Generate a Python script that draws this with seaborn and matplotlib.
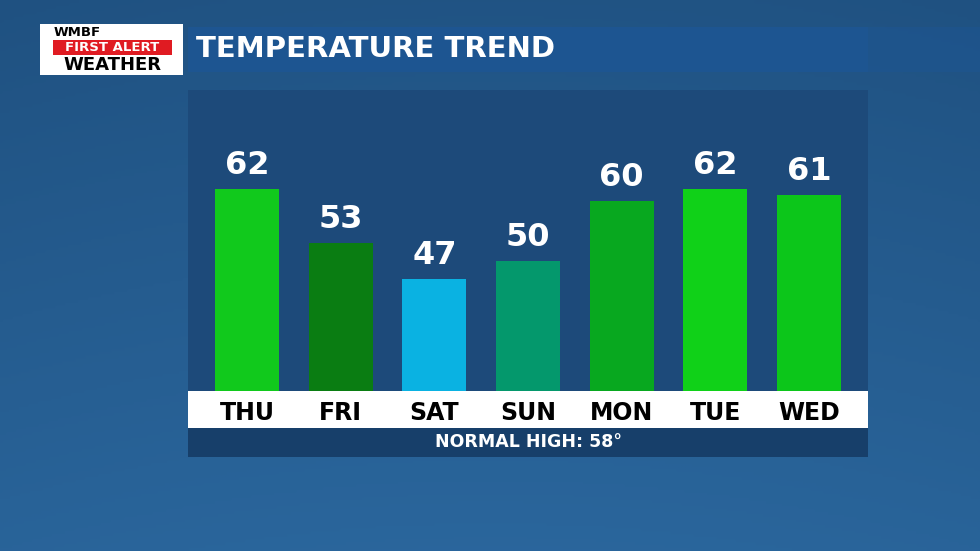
import matplotlib
matplotlib.use("Agg")
import matplotlib.pyplot as plt
import seaborn as sns
import numpy as np
import pandas as pd
from matplotlib.patches import Rectangle

days = ["THU", "FRI", "SAT", "SUN", "MON", "TUE", "WED"]
temps = [62, 53, 47, 50, 60, 62, 61]
colors = ["#11c91c", "#0a7d12", "#0ab2e2", "#04986c", "#08a81f", "#10d118", "#0cc61a"]
normal_high = 58

sns.set_theme(style="white")
plt.rcParams['font.family'] = ['DejaVu Sans']
W, H = 980, 551
fig = plt.figure(figsize=(9.8, 5.51), dpi=100)

bg = fig.add_axes([0, 0, 1, 1]); bg.axis("off")
yy = np.linspace(0, 1, 200)[:, None]
xx = np.linspace(0, 1, 300)[None, :]
grad = 0.55 + 0.3 * yy - 0.15 * (xx - 0.5) ** 2
bg.imshow(grad, cmap=matplotlib.colors.LinearSegmentedColormap.from_list("b", ["#0f3258", "#2f6fa8"]),
          extent=[0, 1, 0, 1], aspect="auto", vmin=0, vmax=1)
bg.set_xlim(0, 1); bg.set_ylim(0, 1)

def fx(px): return px / W
def fy(py): return 1 - py / H
def rect(x0, y0, x1, y1, color, z=1, alpha=1):
    bg.add_patch(Rectangle((fx(x0), fy(y1)), fx(x1) - fx(x0), fy(y0) - fy(y1), color=color, zorder=z, alpha=alpha, lw=0))

rect(40, 24, 183, 75, "white", 3)
rect(53, 40, 172, 55, "#e01b22", 4)
bg.text(fx(54), fy(32), "WMBF", fontsize=9.5, fontweight="bold", color="black", va="center", zorder=5)
bg.text(fx(112), fy(47.5), "FIRST ALERT", fontsize=9.5, fontweight="bold", color="white", va="center", ha="center", zorder=5)
bg.text(fx(112), fy(65), "WEATHER", fontsize=13, fontweight="bold", color="black", va="center", ha="center", zorder=5)
rect(188, 27, 868, 72, "#1d5591", 3)
rect(868, 27, 980, 72, "#1d5591", 3, 0.6)
bg.text(fx(196), fy(49), "TEMPERATURE TREND", fontsize=21, fontweight="bold", color="white", va="center", zorder=5)

rect(188, 90, 868, 391, "#1d4a7a", 3)
rect(188, 391, 868, 428, "white", 3)
rect(188, 428, 868, 457, "#173f6a", 3)
bg.text(fx(528), fy(442), f"NORMAL HIGH: {normal_high}°", fontsize=12.5, fontweight="bold", color="white",
        ha="center", va="center", zorder=5)

ax = fig.add_axes([fx(188), fy(391), fx(868) - fx(188), fy(90) - fy(391)])
ax.patch.set_alpha(0)
df = pd.DataFrame({"day": days, "temp": temps})
sns.barplot(data=df, x="day", y="temp", hue="day", palette=colors, order=days,
            width=0.68, saturation=1, legend=False, linewidth=0, ax=ax)
ax.set_ylim(28.3, 78.5)
ax.set_xlim(-0.63, 6.63)
ax.axis("off")
for i, (d, t) in enumerate(zip(days, temps)):
    ax.text(i, t + 1.3, str(t), ha="center", va="bottom", fontsize=23, fontweight="bold", color="white")
    ax.text(i, 28.3 - 3.6, d, ha="center", va="center", fontsize=17, fontweight="bold", color="black", clip_on=False)

fig.savefig("out.png", dpi=100)
